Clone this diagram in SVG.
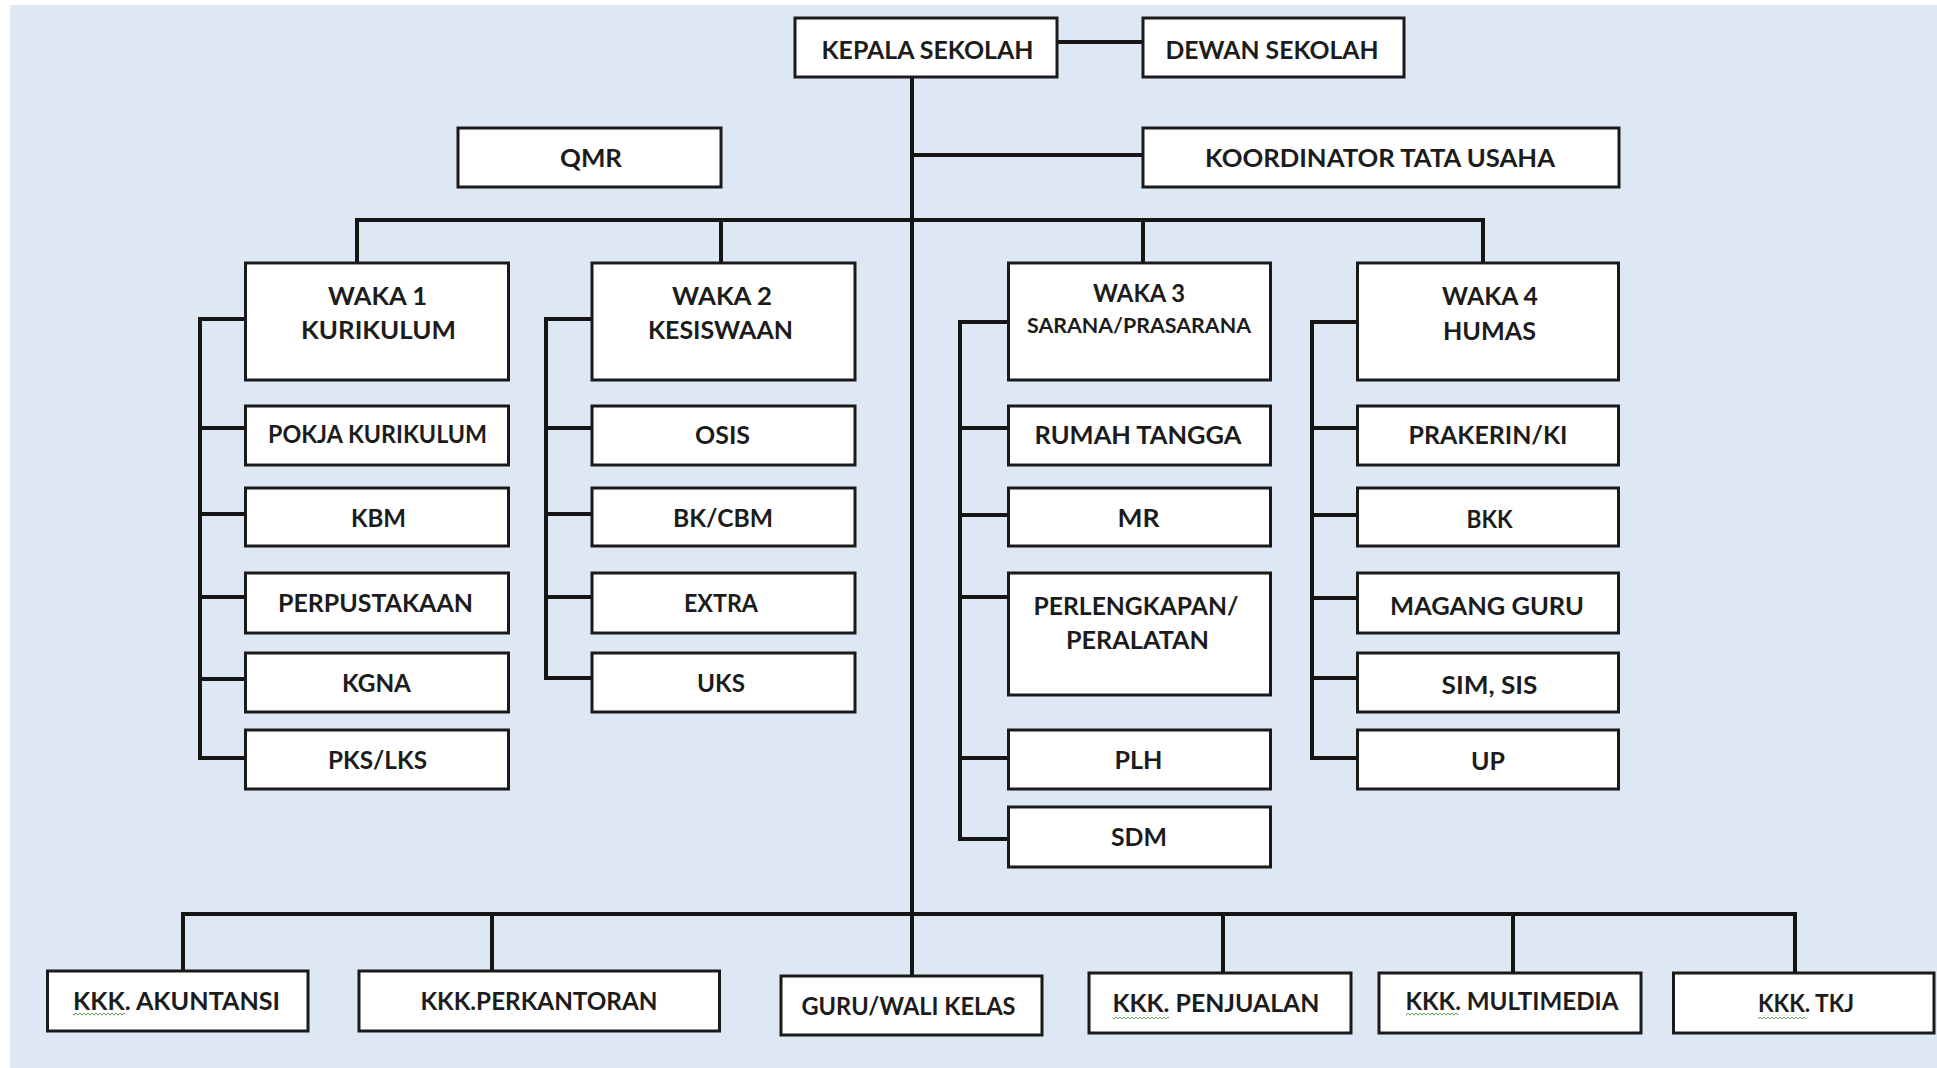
<svg xmlns="http://www.w3.org/2000/svg" width="1937" height="1068" viewBox="0 0 1937 1068">
<style>
.box{fill:#ffffff;stroke:#1a1a1a;stroke-width:3}
.ln{fill:none;stroke:#151515;stroke-width:4;stroke-linecap:square}
.t{font-family:Lato,"Liberation Sans",sans-serif;font-weight:bold;font-size:24px;fill:#1c1c1c;text-anchor:middle}
.s{font-size:21px}
</style>
<defs>
<pattern id="squig" patternUnits="userSpaceOnUse" width="4" height="4">
<path d="M0 0.8 L2 3.2 L4 0.8" fill="none" stroke="#5e9c55" stroke-width="1"/>
</pattern>
</defs>
<rect x="0" y="0" width="1937" height="1068" fill="#ffffff"/>
<rect x="10" y="5" width="1927" height="1063" fill="#dde8f4"/>

<g id="connectors">
<path class="ln" d="M912 77 V976"/>
<path class="ln" d="M1057 42 H1143"/>
<path class="ln" d="M912 155 H1143"/>
<path class="ln" d="M357 220 H1483"/>
<path class="ln" d="M357 220 V263 M721 220 V263 M1143 220 V263 M1483 220 V263"/>
<path class="ln" d="M245 319 H200 V758 H245 M200 428 H245 M200 514 H245 M200 597 H245 M200 679 H245"/>
<path class="ln" d="M592 319 H546 V678 H592 M546 428 H592 M546 514 H592 M546 597 H592"/>
<path class="ln" d="M1008 322 H960 V839 H1008 M960 428 H1008 M960 515 H1008 M960 597 H1008 M960 758 H1008"/>
<path class="ln" d="M1357 322 H1312 V758 H1357 M1312 428 H1357 M1312 515 H1357 M1312 598 H1357 M1312 678 H1357"/>
<path class="ln" d="M183 914 H1795"/>
<path class="ln" d="M183 914 V971 M492 914 V971 M1223 914 V973 M1513 914 V973 M1795 914 V973"/>
</g>

<g id="kepala-sekolah"><rect class="box" x="795" y="18" width="262" height="59"/><text class="t" x="927.5" y="59" textLength="212" lengthAdjust="spacingAndGlyphs">KEPALA SEKOLAH</text></g>
<g id="dewan-sekolah"><rect class="box" x="1143" y="18" width="261" height="59"/><text class="t" x="1272" y="59" textLength="213" lengthAdjust="spacingAndGlyphs">DEWAN SEKOLAH</text></g>
<g id="qmr"><rect class="box" x="458" y="128" width="263" height="59"/><text class="t" x="591" y="167" textLength="62" lengthAdjust="spacingAndGlyphs">QMR</text></g>
<g id="koordinator-tu"><rect class="box" x="1143" y="128" width="476" height="59"/><text class="t" x="1380" y="167" textLength="350" lengthAdjust="spacingAndGlyphs">KOORDINATOR TATA USAHA</text></g>

<g id="waka1"><rect class="box" x="245.5" y="263" width="263" height="117"/><text class="t" x="377.5" y="305" textLength="99" lengthAdjust="spacingAndGlyphs">WAKA 1</text><text class="t" x="378.5" y="339" textLength="155" lengthAdjust="spacingAndGlyphs">KURIKULUM</text></g>
<g id="waka2"><rect class="box" x="592" y="263" width="263" height="117"/><text class="t" x="722" y="305" textLength="100" lengthAdjust="spacingAndGlyphs">WAKA 2</text><text class="t" x="720.5" y="339" textLength="145" lengthAdjust="spacingAndGlyphs">KESISWAAN</text></g>
<g id="waka3"><rect class="box" x="1008.5" y="263" width="262" height="117"/><text class="t" x="1139" y="302" textLength="92" lengthAdjust="spacingAndGlyphs">WAKA 3</text><text class="t s" x="1139" y="333" textLength="224" lengthAdjust="spacingAndGlyphs">SARANA/PRASARANA</text></g>
<g id="waka4"><rect class="box" x="1357.5" y="263" width="261" height="117"/><text class="t" x="1490" y="305" textLength="96" lengthAdjust="spacingAndGlyphs">WAKA 4</text><text class="t" x="1489.5" y="340" textLength="93" lengthAdjust="spacingAndGlyphs">HUMAS</text></g>

<g id="pokja-kurikulum"><rect class="box" x="245.5" y="406" width="263" height="59"/><text class="t" x="377.5" y="443" textLength="219" lengthAdjust="spacingAndGlyphs">POKJA KURIKULUM</text></g>
<g id="kbm"><rect class="box" x="245.5" y="488" width="263" height="58"/><text class="t" x="378.5" y="527" textLength="55" lengthAdjust="spacingAndGlyphs">KBM</text></g>
<g id="perpustakaan"><rect class="box" x="245.5" y="573" width="263" height="60"/><text class="t" x="375.5" y="612" textLength="195" lengthAdjust="spacingAndGlyphs">PERPUSTAKAAN</text></g>
<g id="kgna"><rect class="box" x="245.5" y="653" width="263" height="59"/><text class="t" x="376.5" y="692" textLength="69" lengthAdjust="spacingAndGlyphs">KGNA</text></g>
<g id="pks-lks"><rect class="box" x="245.5" y="730" width="263" height="59"/><text class="t" x="377.5" y="769" textLength="99" lengthAdjust="spacingAndGlyphs">PKS/LKS</text></g>

<g id="osis"><rect class="box" x="592" y="406" width="263" height="59"/><text class="t" x="722.5" y="444" textLength="55" lengthAdjust="spacingAndGlyphs">OSIS</text></g>
<g id="bk-cbm"><rect class="box" x="592" y="488" width="263" height="58"/><text class="t" x="723" y="527" textLength="100" lengthAdjust="spacingAndGlyphs">BK/CBM</text></g>
<g id="extra"><rect class="box" x="592" y="573" width="263" height="60"/><text class="t" x="721" y="612" textLength="74" lengthAdjust="spacingAndGlyphs">EXTRA</text></g>
<g id="uks"><rect class="box" x="592" y="653" width="263" height="59"/><text class="t" x="721" y="692" textLength="48" lengthAdjust="spacingAndGlyphs">UKS</text></g>

<g id="rumah-tangga"><rect class="box" x="1008.5" y="406" width="262" height="59"/><text class="t" x="1138" y="444" textLength="207" lengthAdjust="spacingAndGlyphs">RUMAH TANGGA</text></g>
<g id="mr"><rect class="box" x="1008.5" y="488" width="262" height="58"/><text class="t" x="1138.5" y="527" textLength="42" lengthAdjust="spacingAndGlyphs">MR</text></g>
<g id="perlengkapan"><rect class="box" x="1008.5" y="573" width="262" height="122"/><text class="t" x="1136" y="615" textLength="205" lengthAdjust="spacingAndGlyphs">PERLENGKAPAN/</text><text class="t" x="1137.5" y="649" textLength="143" lengthAdjust="spacingAndGlyphs">PERALATAN</text></g>
<g id="plh"><rect class="box" x="1008.5" y="730" width="262" height="59"/><text class="t" x="1138.5" y="769" textLength="48" lengthAdjust="spacingAndGlyphs">PLH</text></g>
<g id="sdm"><rect class="box" x="1008.5" y="807" width="262" height="60"/><text class="t" x="1139" y="846" textLength="56" lengthAdjust="spacingAndGlyphs">SDM</text></g>

<g id="prakerin"><rect class="box" x="1357.5" y="406" width="261" height="59"/><text class="t" x="1488" y="444" textLength="159" lengthAdjust="spacingAndGlyphs">PRAKERIN/KI</text></g>
<g id="bkk"><rect class="box" x="1357.5" y="488" width="261" height="58"/><text class="t" x="1489.5" y="528" textLength="46" lengthAdjust="spacingAndGlyphs">BKK</text></g>
<g id="magang-guru"><rect class="box" x="1357.5" y="573" width="261" height="60"/><text class="t" x="1487" y="615" textLength="194" lengthAdjust="spacingAndGlyphs">MAGANG GURU</text></g>
<g id="sim-sis"><rect class="box" x="1357.5" y="653" width="261" height="59"/><text class="t" x="1489.5" y="694" textLength="96" lengthAdjust="spacingAndGlyphs">SIM, SIS</text></g>
<g id="up"><rect class="box" x="1357.5" y="730" width="261" height="59"/><text class="t" x="1488" y="770" textLength="34" lengthAdjust="spacingAndGlyphs">UP</text></g>

<g id="kkk-akuntansi"><rect class="box" x="47.5" y="971" width="260.5" height="60"/><text class="t" x="176.5" y="1010" textLength="207" lengthAdjust="spacingAndGlyphs">KKK. AKUNTANSI</text><rect x="73" y="1012" width="52" height="4" fill="url(#squig)"/></g>
<g id="kkk-perkantoran"><rect class="box" x="359" y="971" width="360.5" height="60"/><text class="t" x="539" y="1010" textLength="237" lengthAdjust="spacingAndGlyphs">KKK.PERKANTORAN</text></g>
<g id="guru-wali-kelas"><rect class="box" x="781" y="976" width="261" height="59"/><text class="t" x="908.5" y="1015" textLength="214" lengthAdjust="spacingAndGlyphs">GURU/WALI KELAS</text></g>
<g id="kkk-penjualan"><rect class="box" x="1089" y="973" width="262" height="60"/><text class="t" x="1216" y="1012" textLength="207" lengthAdjust="spacingAndGlyphs">KKK. PENJUALAN</text><rect x="1113" y="1015" width="56" height="4" fill="url(#squig)"/></g>
<g id="kkk-multimedia"><rect class="box" x="1379" y="973" width="262" height="60"/><text class="t" x="1512" y="1010" textLength="213" lengthAdjust="spacingAndGlyphs">KKK. MULTIMEDIA</text><rect x="1406" y="1013" width="52" height="4" fill="url(#squig)"/></g>
<g id="kkk-tkj"><rect class="box" x="1673.5" y="973" width="260.5" height="60"/><text class="t" x="1806" y="1012" textLength="96" lengthAdjust="spacingAndGlyphs">KKK. TKJ</text><rect x="1758" y="1015" width="48" height="4" fill="url(#squig)"/></g>
</svg>
